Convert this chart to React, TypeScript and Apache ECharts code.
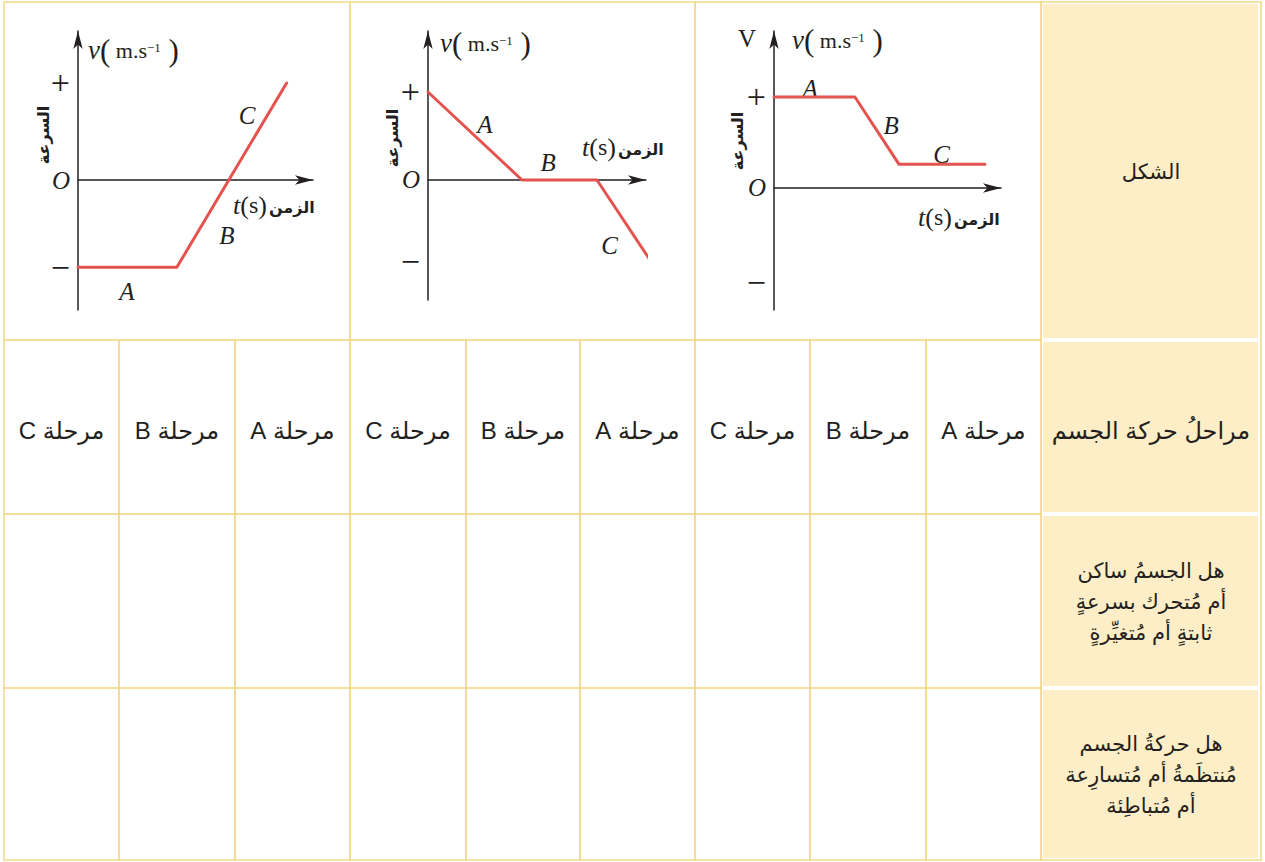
import React, { useEffect, useRef } from 'react';
import * as echarts from 'echarts';

// Phase names shown along each velocity-time curve
const phases = ['A', 'B', 'C'];

// Left panel: constant negative speed, then steady rise through zero
const timeG1 = [0, 4.05, 8.55];
const speedG1 = [-0.9, -0.9, 1];
const ticksG1 = [1, 0, -0.9];

// Middle panel: slowing down to rest, at rest, then speeding up backwards
const timeG2 = [0, 4.14, 7.44, 9.78];
const speedG2 = [1, 0, 0, -0.91];
const ticksG2 = [1, 0, -0.93];

// Right panel: constant speed, slowing down, constant lower speed
const timeG3 = [0, 3.43, 5.3, 8.94];
const speedG3 = [1, 1, 0.26, 0.26];
const ticksG3 = [1, 0, -1.04];

// Table texts
const headerShape = 'الشكل';
const headerPhases = 'مراحلُ حركة الجسم';
const headerQ1 = ['هل الجسمُ ساكن', 'أم مُتحرك بسرعةٍ', 'ثابتةٍ أم مُتغيِّرةٍ'];
const headerQ2 = ['هل حركةُ الجسم', 'مُنتظَمةُ أم مُتسارِعة', 'أم مُتباطِئة'];
const phaseWord = 'مرحلة';
const speedWord = 'السرعة';
const timeWord = 'الزمن';

const SERIF = "'Liberation Serif', 'DejaVu Serif', serif";
const SANS = "'Liberation Sans', 'DejaVu Sans', sans-serif";
const INK = '#231f20';
const RED = '#e5534f';
const GRID_LINE = '#f3d47c';
const BORDER = '#f7e2a6';
const HEADER_FILL = '#fdeec7';

// table layout (column and row edges)
const COLS = [4, 119, 235, 350, 466, 580, 695, 810, 926, 1041, 1261];
const ROWS = [2, 340, 514, 688, 860];

type Panel = {
  left: number; top: number; width: number; height: number;
  xMax: number; yMin: number; yMax: number;
  time: number[]; speed: number[]; ticks: number[];
  marks: [number, number, string][];
  vAt: [number, number]; tAt: [number, number]; sAt: [number, number];
  bigV?: [number, number];
};

const panels: Panel[] = [
  {
    left: 78, top: 31, width: 235, height: 279, xMax: 9.63, yMin: -1.34, yMax: 1.536,
    time: timeG1, speed: speedG1, ticks: ticksG1,
    marks: [[2.0, -1.15, phases[0]], [6.1, -0.57, phases[1]], [6.93, 0.67, phases[2]]],
    vAt: [88, 50], tAt: [233, 205], sAt: [43, 135],
  },
  {
    left: 428, top: 31, width: 218, height: 269, xMax: 9.6, yMin: -1.364, yMax: 1.693,
    time: timeG2, speed: speedG2, ticks: ticksG2,
    marks: [[2.5, 0.63, phases[0]], [5.29, 0.2, phases[1]], [8.0, -0.74, phases[2]]],
    vAt: [440, 43], tAt: [582, 147], sAt: [392, 138],
  },
  {
    left: 774, top: 31, width: 227, height: 279, xMax: 9.62, yMin: -1.341, yMax: 1.725,
    time: timeG3, speed: speedG3, ticks: ticksG3,
    marks: [[1.53, 1.09, phases[0]], [4.96, 0.69, phases[1]], [7.1, 0.37, phases[2]]],
    vAt: [792, 40], tAt: [918, 217], sAt: [737, 141], bigV: [747, 38],
  },
];

const axisLineStyle = { color: INK, width: 1.5 };

function buildOption() {
  const grid = panels.map((p) => ({
    left: p.left, top: p.top, width: p.width, height: p.height,
    containLabel: false, outerBoundsMode: 'none',
  }));

  const xAxis = panels.map((p, i) => ({
    type: 'value', gridIndex: i, min: 0, max: p.xMax,
    axisLine: { show: true, onZero: true, symbol: ['none', 'arrow'], symbolSize: [7, 18], lineStyle: axisLineStyle },
    axisTick: { show: false }, axisLabel: { show: false }, splitLine: { show: false },
  }));

  const yAxis = panels.map((p, i) => ({
    type: 'value', gridIndex: i, min: p.yMin, max: p.yMax,
    axisLine: { show: true, onZero: false, symbol: ['none', 'arrow'], symbolSize: [7, 18], lineStyle: axisLineStyle },
    axisTick: { show: false }, splitLine: { show: false },
    axisLabel: {
      show: true, customValues: p.ticks, margin: 8,
      fontFamily: SERIF, fontSize: 25, color: INK,
      formatter: (v: number) => (v === 0 ? '{o|O}' : v > 0 ? '{m|+}' : '{m|−}'),
      rich: {
        o: { fontFamily: SERIF, fontStyle: 'italic', fontSize: 25, color: INK },
        m: { fontFamily: SERIF, fontSize: 34, color: INK },
      },
    },
  }));

  const series: any[] = [];
  panels.forEach((p, i) => {
    series.push({
      type: 'line', xAxisIndex: i, yAxisIndex: i, clip: false, symbol: 'none', silent: true,
      data: p.time.map((t, k) => [t, p.speed[k]]),
      lineStyle: { color: RED, width: 3, cap: 'round', join: 'round' },
    });
    series.push({
      type: 'scatter', xAxisIndex: i, yAxisIndex: i, symbolSize: 1, silent: true,
      itemStyle: { color: 'rgba(0,0,0,0)', opacity: 1 },
      data: p.marks.map(([t, v, txt]) => ({ value: [t, v], label: { formatter: txt } })),
      label: {
        show: true, position: 'inside', fontFamily: SERIF, fontStyle: 'italic', fontSize: 25,
        color: INK, textBorderWidth: 0, opacity: 1,
      },
    });
  });

  const graphic: any[] = [];

  // header column background
  for (let r = 0; r < 4; r++) {
    graphic.push({
      type: 'rect', silent: true,
      shape: { x: 1043, y: ROWS[r] + 2, width: 215, height: ROWS[r + 1] - ROWS[r] - 4 },
      style: { fill: HEADER_FILL },
    });
  }
  // outer border
  graphic.push({
    type: 'rect', silent: true,
    shape: { x: COLS[0], y: ROWS[0], width: COLS[10] - COLS[0], height: ROWS[4] - ROWS[0] },
    style: { fill: 'none', stroke: BORDER, lineWidth: 2 },
  });
  // horizontal rules
  for (let r = 1; r < 4; r++) {
    graphic.push({
      type: 'line', silent: true,
      shape: { x1: COLS[0], y1: ROWS[r], x2: COLS[9], y2: ROWS[r] },
      style: { stroke: GRID_LINE, lineWidth: 1.6 },
    });
  }
  // vertical rules
  for (let c = 1; c < 10; c++) {
    const full = c % 3 === 0;
    graphic.push({
      type: 'line', silent: true,
      shape: { x1: COLS[c], y1: full ? ROWS[0] : ROWS[1], x2: COLS[c], y2: ROWS[4] },
      style: { stroke: GRID_LINE, lineWidth: 1.6 },
    });
  }

  const cellText = (x: number, y: number, text: string, fontSize = 21, lineHeight = 31) => ({
    type: 'text', silent: true, x, y,
    style: {
      text, fill: INK, fontFamily: SANS, fontSize, lineHeight,
      align: 'center', verticalAlign: 'middle',
    },
  });

  const hx = (COLS[9] + COLS[10]) / 2;
  graphic.push(cellText(hx, (ROWS[0] + ROWS[1]) / 2, headerShape, 21));
  graphic.push(cellText(hx, (ROWS[1] + ROWS[2]) / 2 + 3, headerPhases, 24));
  graphic.push(cellText(hx, (ROWS[2] + ROWS[3]) / 2, headerQ1.join('\n'), 21, 31));
  graphic.push(cellText(hx, (ROWS[3] + ROWS[4]) / 2, headerQ2.join('\n'), 21, 31));

  for (let c = 0; c < 9; c++) {
    const phase = phases[2 - (c % 3)];
    graphic.push(cellText((COLS[c] + COLS[c + 1]) / 2, (ROWS[1] + ROWS[2]) / 2 + 3,
      '\u202B' + phaseWord + ' ' + phase + '\u202C', 24));
  }

  // axis titles of each panel
  panels.forEach((p) => {
    graphic.push({
      type: 'text', silent: true, x: p.vAt[0], y: p.vAt[1],
      style: {
        text: '{v|v}{p|(}{u| m.s}{s|−1}{p| )}',
        align: 'left', verticalAlign: 'middle', fill: INK,
        rich: {
          v: { fontFamily: SERIF, fontStyle: 'italic', fontSize: 27, fill: INK },
          p: { fontFamily: SERIF, fontSize: 31, fill: INK },
          u: { fontFamily: SERIF, fontSize: 22, fill: INK },
          s: { fontFamily: SERIF, fontSize: 13, fill: INK, verticalAlign: 'top', padding: [6, 0, 0, 0] },
        },
      },
    });
    graphic.push({
      type: 'text', silent: true, x: p.tAt[0], y: p.tAt[1],
      style: {
        text: '{t|t}{p|(}{u|s}{p|)}{a|' + timeWord + '}',
        align: 'left', verticalAlign: 'middle', fill: INK,
        rich: {
          t: { fontFamily: SERIF, fontStyle: 'italic', fontSize: 26, fill: INK },
          p: { fontFamily: SERIF, fontSize: 26, fill: INK },
          u: { fontFamily: SERIF, fontSize: 24, fill: INK },
          a: { fontFamily: SANS, fontWeight: 'bold', fontSize: 16, fill: INK, padding: [4, 0, 0, 2] },
        },
      },
    });
    graphic.push({
      type: 'text', silent: true, x: p.sAt[0], y: p.sAt[1], rotation: Math.PI / 2,
      style: {
        text: speedWord, fill: INK, fontFamily: SANS, fontWeight: 'bold', fontSize: 16,
        align: 'center', verticalAlign: 'middle',
      },
    });
    if (p.bigV) {
      graphic.push({
        type: 'text', silent: true, x: p.bigV[0], y: p.bigV[1],
        style: {
          text: 'V', fill: INK, fontFamily: SERIF, fontSize: 25,
          align: 'center', verticalAlign: 'middle',
        },
      });
    }
  });

  return {
    animation: false,
    backgroundColor: '#ffffff',
    grid, xAxis, yAxis, series, graphic,
  };
}

export default function App() {
  const ref = useRef<HTMLDivElement>(null);
  useEffect(() => {
    if (!ref.current) return;
    const chart = echarts.init(ref.current, undefined, { renderer: 'svg' });
    chart.setOption(buildOption() as any);
    return () => chart.dispose();
  }, []);
  return (
    <div
      ref={ref}
      style={{ position: 'absolute', left: 0, top: 0, width: 1265, height: 862 }}
    />
  );
}
